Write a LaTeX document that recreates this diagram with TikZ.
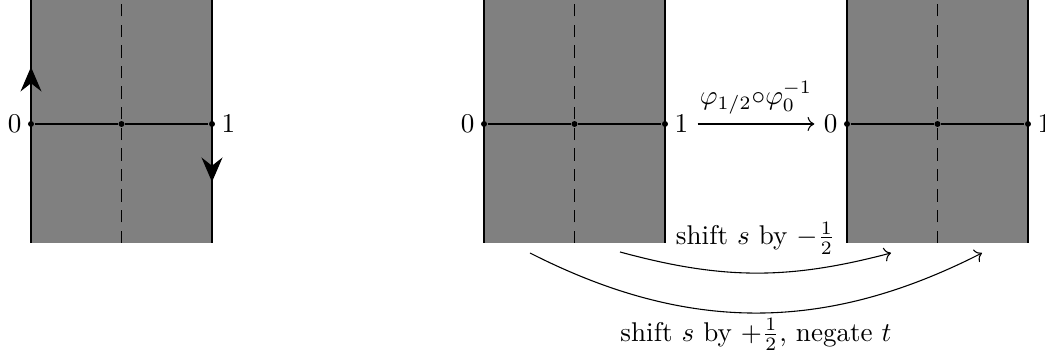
\documentclass[tikz,border=0pt]{standalone}
\usepackage{amsmath}
\usetikzlibrary{arrows.meta,positioning}
\tikzset{
  strip/.style={fill=gray},
  edge/.style={thick},
  midline/.style={dash pattern=on 4.6pt off 3pt},
  dot/.style={circle, fill, inner sep=0pt, minimum size=2.2pt},
  orient/.style={-{Stealth[length=9pt,width=7.7pt,inset=3pt]}, thick},
  arr/.style={->}
}

\begin{document}
\begin{tikzpicture}[x=0.369pt,y=0.369pt]
  \useasboundingbox (0,0) rectangle (1045,360);
  % the three strips
  \foreach \x/\n in {31/a,484/b,847/c}{
    \fill[strip] (\x,117) rectangle ++(181,250);
    \draw[edge] (\x,117) -- ++(0,250);
    \draw[edge] (\x+181,117) -- ++(0,250);
    \draw[midline] (\x+90.5,117) -- ++(0,250);
    \node[dot] (zero\n) at (\x,236) {};
    \node[dot] (mid\n) at (\x+90.5,236) {};
    \node[dot] (one\n) at (\x+181,236) {};
    \draw (zero\n) -- (mid\n) -- (one\n);
    \node[left=0pt of zero\n.center] (lzero\n) {$0$};
    \node[right=0pt of one\n.center] (lone\n) {$1$};
  }
  % orientation of the glued edges
  \draw[orient] (31,262) -- (31,293);
  \draw[orient] (212,208) -- (212,178);
  % maps
  \draw[arr] (loneb) -- node[above] {$\varphi_{1/2}{\circ}\varphi_0^{-1}$} (lzeroc);
  \coordinate (s1) at (620,108);
  \coordinate (t1) at (891,107);
  \coordinate (s2) at (530,107);
  \coordinate (t2) at (982,107);
  \draw[arr] (s1) to[bend right=15] node[above=3.5pt] {shift $s$ by $-\frac{1}{2}$} (t1);
  \draw[arr] (s2) to[bend right=27] node[below=-1.5pt] {shift $s$ by $+\frac{1}{2}$, negate $t$} (t2);
\end{tikzpicture}
\end{document}
